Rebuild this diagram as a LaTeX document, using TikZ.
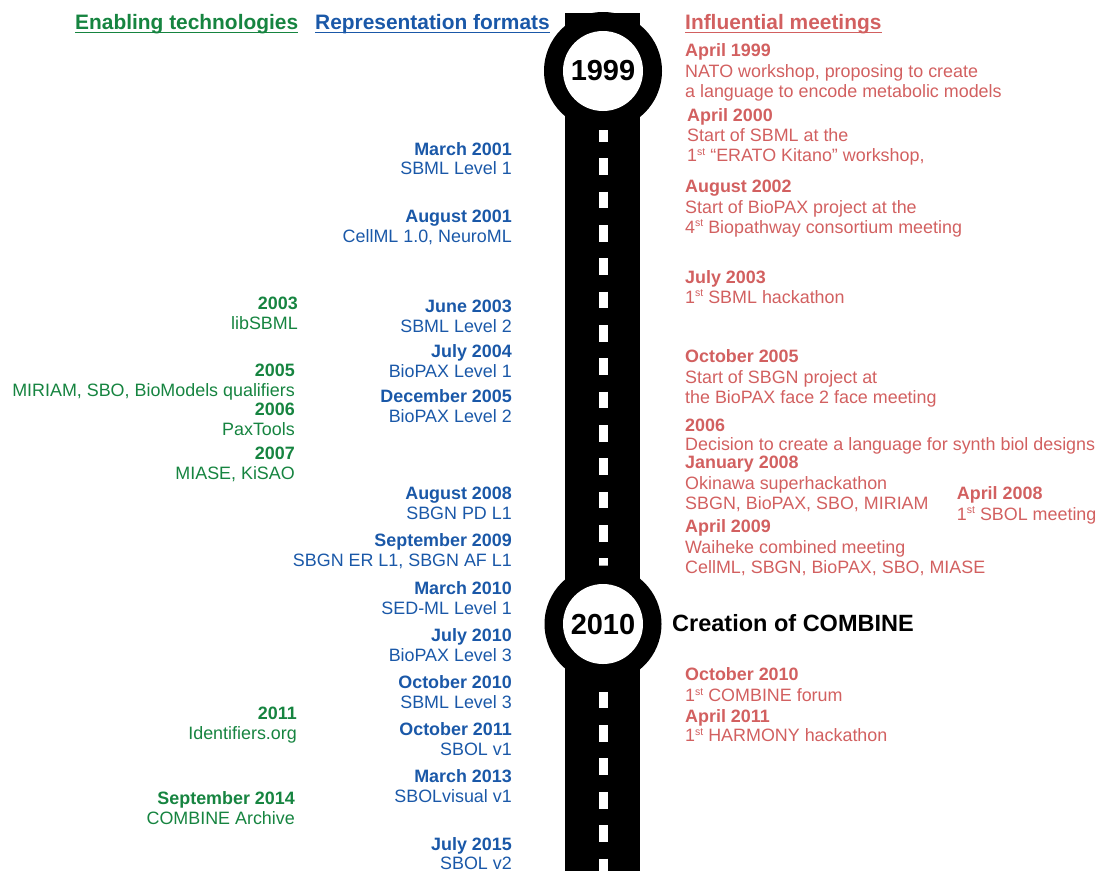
\documentclass[tikz,border=0pt]{standalone}
\usepackage{fontspec}
\setmainfont{Liberation Sans}
\definecolor{tgreen}{RGB}{22,132,64}
\definecolor{tblue}{RGB}{26,88,168}
\definecolor{tred}{RGB}{210,96,96}
\newcommand\lineR[5]{\node[#1, anchor=base east] (#2) at (#3,#4) {#5};}
\newcommand\lineL[5]{\node[#1, anchor=base west] (#2) at (#3,#4) {#5};}
\newcommand\supst{\raisebox{6.5pt}{\fontsize{10.5}{10.5}\selectfont st}}
\begin{document}
\begin{tikzpicture}[x=1pt,y=-1pt,
  txt/.style={inner sep=0pt, font=\fontsize{17.9}{20}\selectfont},
  dte/.style={inner sep=0pt, font=\fontsize{17.9}{20}\selectfont\bfseries},
  reptxt/.style={txt, text=tblue}, repdate/.style={dte, text=tblue},
  tectxt/.style={txt, text=tgreen}, tecdate/.style={dte, text=tgreen},
  meettxt/.style={txt, text=tred}, meetdate/.style={dte, text=tred},
  hdr/.style={inner sep=0pt, font=\fontsize{20.9}{24}\selectfont\bfseries},
  bighdr/.style={inner sep=0pt, font=\fontsize{23.5}{26}\selectfont\bfseries},
  uline/.style={line width=1.6pt},
  year/.style={inner sep=0pt, font=\fontsize{29}{31}\selectfont\bfseries},
  roaddash/.style={white, line width=9pt, dash pattern=on 16.67pt off 16.67pt}
]
\useasboundingbox (0,0) rectangle (1097,871);
% road
\fill[black] (565,13) rectangle (640,871);
\draw[roaddash] (603,25) -- (603,871);
\fill[black] (603,71) circle (59pt);
\fill[white] (603,71) circle (40pt);
\fill[black] (603,624) circle (58.5pt);
\fill[white] (603,624) circle (40pt);
\node[year] (y1999) at (603,71) {1999};
\node[year] (y2010) at (603,624.5) {2010};
\node[bighdr, anchor=base west] (combine) at (672,631.5) {Creation of COMBINE};
% headers
\node[hdr, text=tgreen, anchor=base west] (h1) at (75,29.5) {Enabling technologies};
\node[hdr, text=tblue, anchor=base west] (h2) at (315,29.5) {Representation formats};
\node[hdr, text=tred, anchor=base west] (h3) at (685,29.5) {Influential meetings};
\draw[uline, tgreen] ([yshift=-3pt]h1.base west) -- ([yshift=-3pt]h1.base east);
\draw[uline, tblue] ([yshift=-3pt]h2.base west) -- ([yshift=-3pt]h2.base east);
\draw[uline, tred] ([yshift=-3pt]h3.base west) -- ([yshift=-3pt]h3.base east);
% representation formats
\lineR{repdate}{r1d}{512}{155}{March 2001}
\lineR{reptxt}{r1t}{512}{174}{SBML Level 1}
\lineR{repdate}{r2d}{512}{222}{August 2001}
\lineR{reptxt}{r2t}{512}{242}{CellML 1.0, NeuroML}
\lineR{repdate}{r3d}{512}{312}{June 2003}
\lineR{reptxt}{r3t}{512}{332}{SBML Level 2}
\lineR{repdate}{r4d}{512}{357}{July 2004}
\lineR{reptxt}{r4t}{512}{377}{BioPAX Level 1}
\lineR{repdate}{r5d}{512}{402}{December 2005}
\lineR{reptxt}{r5t}{512}{422}{BioPAX Level 2}
\lineR{repdate}{r6d}{512}{499}{August 2008}
\lineR{reptxt}{r6t}{512}{519}{SBGN PD L1}
\lineR{repdate}{r7d}{512}{546}{September 2009}
\lineR{reptxt}{r7t}{512}{566}{SBGN ER L1, SBGN AF L1}
\lineR{repdate}{r8d}{512}{594}{March 2010}
\lineR{reptxt}{r8t}{512}{614}{SED-ML Level 1}
\lineR{repdate}{r9d}{512}{641}{July 2010}
\lineR{reptxt}{r9t}{512}{661}{BioPAX Level 3}
\lineR{repdate}{r10d}{512}{688}{October 2010}
\lineR{reptxt}{r10t}{512}{708}{SBML Level 3}
\lineR{repdate}{r11d}{512}{735}{October 2011}
\lineR{reptxt}{r11t}{512}{755}{SBOL v1}
\lineR{repdate}{r12d}{512}{782}{March 2013}
\lineR{reptxt}{r12t}{512}{802}{SBOLvisual v1}
\lineR{repdate}{r13d}{512}{850}{July 2015}
\lineR{reptxt}{r13t}{512}{869}{SBOL v2}
% enabling technologies
\lineR{tecdate}{t1d}{298}{309.3}{2003}
\lineR{tectxt}{t1t}{298}{329.3}{libSBML}
\lineR{tecdate}{t2d}{295}{376}{2005}
\lineR{tectxt}{t2t}{295}{396}{MIRIAM, SBO, BioModels qualifiers}
\lineR{tecdate}{t3d}{295}{415}{2006}
\lineR{tectxt}{t3t}{295}{435}{PaxTools}
\lineR{tecdate}{t4d}{295}{459.3}{2007}
\lineR{tectxt}{t4t}{295}{479.3}{MIASE, KiSAO}
\lineR{tecdate}{t5d}{297}{719}{2011}
\lineR{tectxt}{t5t}{297}{739}{Identifiers.org}
\lineR{tecdate}{t6d}{295}{804}{September 2014}
\lineR{tectxt}{t6t}{295}{824}{COMBINE Archive}
% influential meetings
\lineL{meetdate}{m1d}{685}{56}{April 1999}
\lineL{meettxt}{m1a}{685}{77}{NATO workshop, proposing to create}
\lineL{meettxt}{m1b}{685}{97}{a language to encode metabolic models}
\lineL{meetdate}{m2d}{687}{121.7}{April 2000}
\lineL{meettxt}{m2a}{687}{141.7}{Start of SBML at the}
\lineL{meettxt}{m2b}{687}{161.7}{1\supst{} “ERATO Kitano” workshop,}
\lineL{meetdate}{m3d}{685}{192.7}{August 2002}
\lineL{meettxt}{m3a}{685}{213.3}{Start of BioPAX project at the}
\lineL{meettxt}{m3b}{685}{233.3}{4\supst{} Biopathway consortium meeting}
\lineL{meetdate}{m4d}{685}{283.3}{July 2003}
\lineL{meettxt}{m4a}{685}{303.3}{1\supst{} SBML hackathon}
\lineL{meetdate}{m5d}{685}{362.7}{October 2005}
\lineL{meettxt}{m5a}{685}{383.3}{Start of SBGN project at}
\lineL{meettxt}{m5b}{685}{403.3}{the BioPAX face 2 face meeting}
\lineL{meetdate}{m6d}{685}{431.7}{2006}
\lineL{meettxt}{m6a}{685}{450}{Decision to create a language for synth biol designs}
\lineL{meetdate}{m7d}{685}{468.3}{January 2008}
\lineL{meettxt}{m7a}{685}{489.3}{Okinawa superhackathon}
\lineL{meettxt}{m7b}{685}{509.3}{SBGN, BioPAX, SBO, MIRIAM}
\lineL{meetdate}{m8d}{956.7}{499.3}{April 2008}
\lineL{meettxt}{m8a}{956.7}{520}{1\supst{} SBOL meeting}
\lineL{meetdate}{m9d}{685}{532.7}{April 2009}
\lineL{meettxt}{m9a}{685}{553.3}{Waiheke combined meeting}
\lineL{meettxt}{m9b}{685}{573.3}{CellML, SBGN, BioPAX, SBO, MIASE}
\lineL{meetdate}{m10d}{685}{680.7}{October 2010}
\lineL{meettxt}{m10a}{685}{701.7}{1\supst{} COMBINE forum}
\lineL{meetdate}{m11d}{685}{722.7}{April 2011}
\lineL{meettxt}{m11a}{685}{741.7}{1\supst{} HARMONY hackathon}
\end{tikzpicture}
\end{document}
